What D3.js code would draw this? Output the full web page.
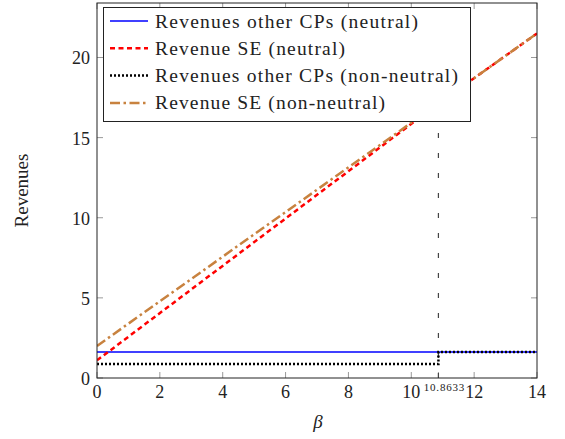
<!DOCTYPE html>
<html><head><meta charset="utf-8">
<script src="https://cdn.jsdelivr.net/npm/d3@7"></script>
<style>body{margin:0;background:#fff}</style>
</head><body>
<svg id="c" width="565" height="439"></svg>
<script>
const betaDomain = [0, 14];
const revDomain = [0, 23.4];
const xTicks = [0, 2, 4, 6, 8, 10, 12, 14];
const yTicks = [0, 5, 10, 15, 20];
const threshold = 10.8633;
const thresholdLabel = "10.8633";
// series as [beta, revenue]
const otherNeutral = [[0, 1.62], [14, 1.62]];
const seNeutral = [[0, 1.1], [10.8633, 17.13], [14, 21.5]];
const otherNonNeutral = [[0, 0.87], [10.8633, 0.87], [10.8633, 1.62], [14, 1.62]];
const seNonNeutral = [[0, 2.0], [14, 21.5]];
const legendLabels = ["Revenues other CPs (neutral)", "Revenue SE (neutral)", "Revenues other CPs (non-neutral)", "Revenue SE (non-neutral)"];
const legendWidths = [263, 190, 303, 230];

const svg = d3.select("#c");
const L = 97, R = 537, T = 3, B = 378;
const x = d3.scaleLinear().domain(betaDomain).range([L, R]);
const y = d3.scaleLinear().domain(revDomain).range([B, T]);
const FONT = "Liberation Serif";

const tickLen = 6;
const g = svg.append("g");
xTicks.forEach(t => {
  g.append("line").attr("x1", x(t)).attr("x2", x(t)).attr("y1", B).attr("y2", B - tickLen).attr("stroke", "#999").attr("stroke-width", 1);
  g.append("line").attr("x1", x(t)).attr("x2", x(t)).attr("y1", T).attr("y2", T + tickLen).attr("stroke", "#999").attr("stroke-width", 1);
  g.append("text").attr("x", x(t)).attr("y", B + 20).attr("text-anchor", "middle").attr("font-family", FONT).attr("font-size", 18).attr("fill", "#222").text(t);
});
yTicks.forEach(t => {
  g.append("line").attr("x1", L).attr("x2", L + tickLen).attr("y1", y(t)).attr("y2", y(t)).attr("stroke", "#999").attr("stroke-width", 1);
  g.append("line").attr("x1", R).attr("x2", R - tickLen).attr("y1", y(t)).attr("y2", y(t)).attr("stroke", "#999").attr("stroke-width", 1);
  g.append("text").attr("x", L - 7).attr("y", y(t) + 7).attr("text-anchor", "end").attr("font-family", FONT).attr("font-size", 18).attr("fill", "#222").text(t);
});
g.append("line").attr("x1", x(threshold)).attr("x2", x(threshold)).attr("y1", B).attr("y2", B - tickLen).attr("stroke", "#999");
g.append("text").attr("x", x(threshold) + 6).attr("y", B + 13).attr("text-anchor", "middle").attr("font-family", FONT).attr("font-size", 11).attr("letter-spacing", 0.8).attr("fill", "#222").text(thresholdLabel);

svg.append("clipPath").attr("id", "pc").append("rect").attr("x", L).attr("y", T).attr("width", R - L).attr("height", B - T);
const pg = svg.append("g").attr("clip-path", "url(#pc)");

pg.append("line").attr("x1", x(threshold)).attr("x2", x(threshold)).attr("y1", B).attr("y2", T).attr("stroke", "#444").attr("stroke-width", 1.2).attr("stroke-dasharray", "5,15");

const line = d3.line().x(d => x(d[0])).y(d => y(d[1]));
const styles = [
  {data: otherNeutral, color: "#0000ff", w: 1.6, dash: null},
  {data: seNeutral, color: "#ff0000", w: 2.5, dash: "5,3.5"},
  {data: otherNonNeutral, color: "#000", w: 2.5, dash: "2,2"},
  {data: seNonNeutral, color: "#c8823f", w: 2.5, dash: "10,3.5,2.5,3.5"}
];
styles.forEach(s => {
  pg.append("path").attr("d", line(s.data)).attr("fill", "none").attr("stroke", s.color).attr("stroke-width", s.w).attr("stroke-dasharray", s.dash);
});

svg.append("rect").attr("x", L).attr("y", T).attr("width", R - L).attr("height", B - T).attr("fill", "none").attr("stroke", "#222").attr("stroke-width", 1);

const lg = svg.append("g");
lg.append("rect").attr("x", 103.5).attr("y", 7.5).attr("width", 367).attr("height", 114).attr("fill", "#fff").attr("stroke", "#222").attr("stroke-width", 1);
legendLabels.forEach((lab, i) => {
  const yy = 21 + i * 27.3;
  const s = styles[i];
  lg.append("line").attr("x1", 110).attr("x2", 148).attr("y1", yy).attr("y2", yy).attr("stroke", s.color).attr("stroke-width", s.w).attr("stroke-dasharray", s.dash);
  lg.append("text").attr("x", 155).attr("y", yy + 6.5).attr("font-family", FONT).attr("font-size", 19.5).attr("fill", "#222")
    .attr("textLength", legendWidths[i]).attr("lengthAdjust", "spacing").text(lab);
});

svg.append("text").attr("transform", `translate(28,${(T + B) / 2}) rotate(-90)`).attr("text-anchor", "middle").attr("font-family", FONT).attr("font-size", 19).attr("fill", "#222").text("Revenues");
svg.append("text").attr("x", 318).attr("y", 428).attr("text-anchor", "middle").attr("font-family", FONT).attr("font-style", "italic").attr("font-size", 19).attr("fill", "#222").text("β");
</script>
</body></html>
